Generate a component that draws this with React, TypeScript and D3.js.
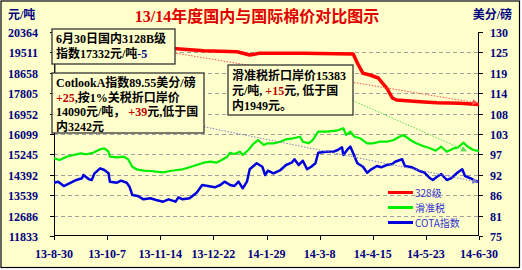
import React from 'react';
import * as d3 from 'd3';

const W = 522;
const H = 270;

const title = '13/14年度国内与国际棉价对比图示';
const leftUnit = '元/吨';
const rightUnit = '美分/磅';

const xTickDays = [0, 38, 76, 114, 152, 190, 228, 266, 304];
const xTickLabels = ['13-8-30', '13-10-7', '13-11-14', '13-12-22', '14-1-29', '14-3-8', '14-4-15', '14-5-23', '14-6-30'];
const leftTicks = [20364, 19511, 18658, 17805, 16952, 16099, 15245, 14392, 13539, 12686, 11833];
const rightTickLabels = ['130', '125', '119', '114', '108', '103', '97', '92', '86', '81', '75'];

// [day since 2013-08-30, value]
const series328: [number, number][] = [
  [0, 19737], [26, 19716], [54, 19695], [83, 19682], [107, 19582], [131, 19540], [140, 19402],
  [147, 19473], [178, 19473], [214, 19444], [217, 19068], [221, 18637], [226, 18566], [232, 18440],
  [238, 18022], [242, 17604], [245, 17520], [262, 17449], [274, 17407], [290, 17382], [304, 17332],
];

const seriesSliding: [number, number][] = [
  [0, 15082], [4, 15011], [9, 15149], [14, 15220], [19, 15291], [23, 15250], [28, 15316], [33, 15459],
  [36, 15500], [39, 15358], [40, 15149], [45, 15124], [50, 15149], [53, 15040], [56, 14731], [59, 14622],
  [64, 14564], [69, 14551], [73, 14522], [78, 14497], [83, 14551], [88, 14593], [92, 14622], [97, 14706],
  [102, 14802], [107, 14898], [112, 14940], [116, 14898], [120, 15011], [124, 15149], [126, 15316],
  [129, 15262], [133, 15358], [135, 15220], [139, 15429], [143, 15709], [146, 15847], [150, 15638],
  [153, 15709], [157, 15709], [162, 15776], [166, 15877], [171, 15919], [176, 15985], [178, 15776],
  [182, 15709], [185, 15847], [189, 16195], [195, 16195], [202, 16236], [207, 16337], [209, 16057],
  [212, 16195], [215, 15985], [219, 15919], [224, 15709], [228, 15709], [233, 15776], [238, 15776],
  [243, 15847], [247, 15985], [250, 16057], [255, 15847], [259, 15709], [264, 15597], [269, 15500],
  [273, 15400], [277, 15567], [281, 15358], [286, 15500], [289, 15542], [293, 15735], [296, 15567],
  [300, 15429], [304, 15383],
];

const seriesCota: [number, number][] = [
  [0, 89.37], [3, 89.64], [7, 88.48], [11, 89.21], [16, 90.1], [20, 90.56], [21, 91.45], [25, 90.29],
  [27, 90.1], [29, 91.9], [33, 93.25], [36, 92.79], [39, 91.9], [40, 89.64], [45, 89.37], [48, 89.91],
  [52, 89.37], [54, 88.29], [56, 86.05], [60, 85.78], [64, 84.89], [69, 85.16], [73, 84.71], [78, 84.25],
  [82, 84.89], [87, 84.25], [89, 85.43], [92, 84.89], [97, 85.16], [102, 86.67], [106, 88.75], [110, 88.48],
  [115, 88.13], [119, 88.75], [122, 89.64], [126, 88.75], [129, 88.48], [132, 89.64], [135, 87.86],
  [138, 89.64], [140, 92.98], [145, 94.6], [149, 93.68], [151, 91.45], [153, 92.6], [157, 91.9],
  [162, 92.79], [166, 94.14], [170, 94.76], [172, 95.68], [175, 94.14], [178, 95.3], [181, 92.98],
  [184, 93.68], [187, 94.6], [189, 97.46], [195, 97.73], [200, 97.73], [203, 98.19], [206, 98.91],
  [207, 96.84], [210, 98.38], [212, 99.08], [214, 97.3], [217, 94.6], [221, 93.68], [224, 92.07],
  [227, 92.98], [231, 93.87], [234, 93.52], [238, 94.14], [242, 94.41], [244, 95.03], [249, 95.68],
  [251, 93.87], [256, 93.52], [261, 92.6], [265, 92.07], [269, 90.56], [271, 90.1], [274, 90.99],
  [277, 91.72], [281, 90.1], [284, 90.56], [288, 91.9], [292, 92.98], [294, 91.18], [298, 90.56],
  [301, 89.91], [304, 89.55],
];

const trend328: [number, number][] = [[79, 19557], [303, 17395]];
const trendSliding: [number, number][] = [[208, 17646], [295, 15387]];
const trendCota: [number, number][] = [[101, 104.93], [303, 89.56]];

const legendLabels = ['328级', '滑准税', 'COTA指数'];
const legendColors = ['#ff0000', '#00ee00', '#0000dd'];

type Seg = { t: string; c?: string };
const noteDomestic: Seg[][] = [
  [{ t: '6月30日国内3128B级' }],
  [{ t: '指数17332元/吨' }, { t: '-5', c: '#000080' }],
];
const noteCotlook: Seg[][] = [
  [{ t: 'CotlookA指数89.55美分/磅' }],
  [{ t: '+25', c: '#c00000' }, { t: ',按1%关税折口岸价' }],
  [{ t: '14090元/吨， ' }, { t: '+39', c: '#c00000' }, { t: '元,低于国' }],
  [{ t: '内3242元' }],
];
const noteSliding: Seg[][] = [
  [{ t: '滑准税折口岸价15383' }],
  [{ t: '元/吨, ' }, { t: '+15', c: '#c00000' }, { t: '元, 低于国' }],
  [{ t: '内1949元。' }],
];

const FONT = "'Liberation Serif', 'Noto Sans CJK SC', serif";
const BG = '#ffffcc';
const NAVY = '#000080';

const x = d3.scaleLinear().domain([0, 304]).range([54, 479]);
const yL = d3.scaleLinear().domain([11833, 20364]).range([236, 32]);
const yR = d3.scaleLinear().domain([75, 130]).range([236, 32]);

const lineL = d3.line<[number, number]>().x(d => x(d[0])).y(d => yL(d[1]));
const lineR = d3.line<[number, number]>().x(d => x(d[0])).y(d => yR(d[1]));

function Note({ lines, bx, by, bw, bh, lh, first }: { lines: Seg[][]; bx: number; by: number; bw: number; bh: number; lh: number; first: number }) {
  return (
    <g>
      <rect x={bx} y={by} width={bw} height={bh} fill={BG} stroke="#333" strokeWidth={1.3} />
      {lines.map((ln, i) => (
        <text key={i} x={bx + 4} y={by + first + i * lh} fontSize={12} fontWeight="bold" fontFamily={FONT} fill="#000">
          {ln.map((s, j) => (
            <tspan key={j} fill={s.c || '#000'}>{s.t}</tspan>
          ))}
        </text>
      ))}
    </g>
  );
}

export default function App() {
  return (
    <div style={{ position: 'absolute', left: 0, top: 0 }}>
      <svg width={W} height={H} style={{ display: 'block' }}>
        <defs>
          {[['arR', '#ff5050'], ['arG', '#55dd55'], ['arB', '#8080c0']].map(([id, c]) => (
            <marker key={id} id={id} viewBox="0 0 10 10" refX={9} refY={5} markerWidth={6} markerHeight={6} orient="auto">
              <path d="M0,0 L10,5 L0,10 z" fill={c} />
            </marker>
          ))}
        </defs>
        <rect x={0} y={0} width={W} height={H} fill="#fff" />
        <rect x={1} y={1} width={518.5} height={266.5} fill={BG} stroke="#000" strokeWidth={1.2} />

        <text x={257} y={22} textAnchor="middle" fontSize={16} fontWeight="bold" fill="#e00000" fontFamily={FONT}>{title}</text>
        <text x={8} y={19} fontSize={12} fontWeight="bold" fill={NAVY} fontFamily={FONT}>{leftUnit}</text>
        <text x={512} y={19} textAnchor="end" fontSize={12} fontWeight="bold" fill={NAVY} fontFamily={FONT}>{rightUnit}</text>

        {/* gridlines */}
        {leftTicks.slice(1, -1).map(v => (
          <line key={v} x1={54} x2={479} y1={Math.round(yL(v)) + 0.5} y2={Math.round(yL(v)) + 0.5} stroke="#a0a0a0" strokeDasharray="4,3" />
        ))}

        {/* axes */}
        <line x1={54.5} x2={54.5} y1={32} y2={236} stroke="#000" />
        <line x1={478.5} x2={478.5} y1={32} y2={236} stroke="#000" />
        <line x1={54} x2={479} y1={235.5} y2={235.5} stroke="#000" />
        {leftTicks.map((v, i) => {
          const yy = Math.round(yL(v)) + 0.5;
          return (
            <g key={v}>
              <line x1={50} x2={54} y1={yy} y2={yy} stroke="#000" />
              <line x1={479} x2={483} y1={yy} y2={yy} stroke="#000" />
              <text x={38} y={yy} textAnchor="end" dominantBaseline="central" fontSize={12} fontWeight="bold" fill={NAVY} fontFamily={FONT}>{v}</text>
              <text x={490} y={yy} dominantBaseline="central" fontSize={12} fontWeight="bold" fill={NAVY} fontFamily={FONT}>{rightTickLabels[i]}</text>
            </g>
          );
        })}
        {xTickDays.map((d, i) => (
          <g key={d}>
            <line x1={Math.round(x(d)) + 0.5} x2={Math.round(x(d)) + 0.5} y1={236} y2={240} stroke="#000" />
            <text x={x(d)} y={258} textAnchor="middle" fontSize={12} fontWeight="bold" fill={NAVY} fontFamily={FONT}>{xTickLabels[i]}</text>
          </g>
        ))}

        {/* series */}
        <path d={lineL(series328) || ''} fill="none" stroke={legendColors[0]} strokeWidth={3.5} strokeLinejoin="round" />
        <path d={lineL(seriesSliding) || ''} fill="none" stroke={legendColors[1]} strokeWidth={2.2} strokeLinejoin="round" />
        <path d={lineR(seriesCota) || ''} fill="none" stroke={legendColors[2]} strokeWidth={2.5} strokeLinejoin="round" />

        {/* trend arrows */}
        <path d={lineL(trend328) || ''} fill="none" stroke="#ff5050" strokeWidth={1} strokeDasharray="1.5,1.5" markerEnd="url(#arR)" />
        <path d={lineL(trendSliding) || ''} fill="none" stroke="#55dd55" strokeWidth={1} strokeDasharray="1.5,1.5" markerEnd="url(#arG)" />
        <path d={lineR(trendCota) || ''} fill="none" stroke="#8080c0" strokeWidth={1} strokeDasharray="1.5,1.5" markerEnd="url(#arB)" />

        {/* notes */}
        <line x1={55} x2={55} y1={64} y2={73} stroke="#333" />
        <Note lines={noteDomestic} bx={52} by={29} bw={123} bh={35} lh={15} first={13.5} />
        <Note lines={noteCotlook} bx={52} by={73} bw={152} bh={60} lh={14.7} first={14} />
        <Note lines={noteSliding} bx={228} by={65} bw={125} bh={50} lh={15} first={14.5} />

        {/* legend */}
        {legendLabels.map((lab, i) => {
          const yy = [192.5, 207.5, 222.5][i];
          return (
            <g key={lab}>
              <line x1={388} x2={413} y1={yy} y2={yy} stroke={legendColors[i]} strokeWidth={3} />
              <text x={415} y={yy} dominantBaseline="central" fontSize={10} fill="#3333cc" fontFamily="'Noto Sans CJK SC', sans-serif">{lab}</text>
            </g>
          );
        })}
      </svg>
    </div>
  );
}
